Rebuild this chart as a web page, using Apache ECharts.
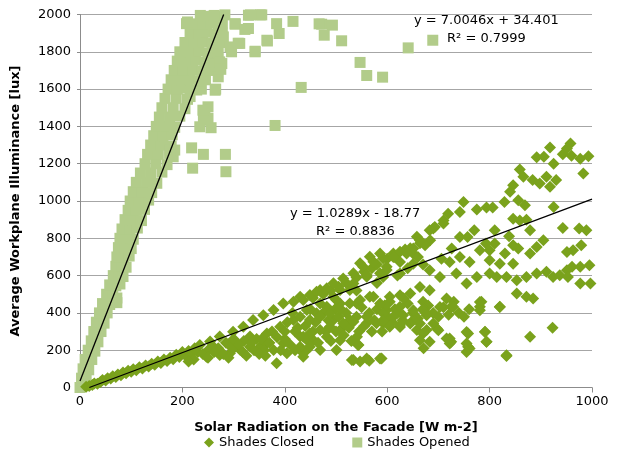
<!DOCTYPE html>
<html>
<head>
<meta charset="utf-8">
<script src="https://cdn.jsdelivr.net/npm/echarts@6/dist/echarts.min.js"></script>
<style>html,body{margin:0;padding:0;background:#fff;}#c{width:630px;height:454px;}</style>
</head>
<body>
<div id="c"></div>
<script>
var xTicks = [0, 200, 400, 600, 800, 1000];
var yTicks = [0, 200, 400, 600, 800, 1000, 1200, 1400, 1600, 1800, 2000];
var seriesNames = ['Shades Closed', 'Shades Opened'];

var openedData = [
[0,0],[5,10],[3,50],[12,45],[6,100],[17,95],[10,150],[23,150],[16,200],[29,195],
[22,250],[35,245],[27,300],[41,300],[32,350],[47,345],[38,400],[53,400],
[44,450],[58,445],[72,455],[52,500],[64,505],[72,480],[58,550],[70,545],[78,555],
[65,600],[76,600],[84,595],[70,650],[82,650],[90,645],[72,700],[85,700],[96,705],
[75,750],[88,750],[100,745],[78,800],[92,800],[104,795],[82,850],[97,850],[112,855],
[88,900],[104,900],[120,895],[94,950],[110,950],[126,955],[98,1000],[115,1000],[134,1005],
[104,1050],[122,1050],[140,1045],[110,1100],[130,1100],[150,1095],[118,1150],[138,1150],[160,1155],
[127,1200],[148,1200],[170,1195],[132,1250],[153,1250],[175,1255],[138,1300],[158,1300],[178,1295],
[144,1350],[162,1350],[180,1355],[149,1400],[167,1400],[185,1395],[155,1450],[175,1450],[195,1455],
[160,1500],[182,1500],[205,1495],[166,1550],[188,1550],[210,1545],[215,1560],
[172,1600],[190,1600],[210,1605],[228,1595],[237,1600],
[178,1650],[196,1650],[215,1655],[232,1645],[245,1650],
[184,1700],[202,1700],[220,1705],[238,1695],[255,1700],
[190,1750],[208,1750],[226,1755],[244,1745],[262,1750],
[195,1800],[214,1800],[232,1805],[250,1795],[270,1800],
[205,1850],[222,1850],[240,1855],[258,1845],[275,1850],
[215,1900],[232,1900],[248,1905],[264,1895],[278,1900],
[225,1950],[240,1950],[255,1955],[270,1945],[278,1955],
[235,1995],[250,1990],[262,1995],[275,1990],
[208,1951],[210,1960],[283,1998],[303,1951],[329,1925],[309,1846],[296,1800],[280,1880],
[277,1737],[270,1666],[264,1594],[250,1505],[244,1451],[241,1433],[185,1273],[182,1237],
[342,1800],[365,1862],[352,1998],[329,1996],[333,1998],[355,1998],[303,1948],[322,1920],
[293,1826],[312,1845],[342,1803],[366,1858],[384,1951],[389,1898],[416,1963],[432,1609],
[381,1405],[265,1600],[234,1398],[256,1393],[250,1443],[218,1285],[241,1250],[284,1250],
[220,1176],[285,1157],[176,1273],[273,1746],[275,1706],[240,1487],[472,1948],[493,1943],
[477,1889],[511,1859],[547,1743],[560,1673],[591,1664],[641,1821],[689,1862],[467,1950]
];

var closedData = [
[12,4],[18,8],[24,14],[28,22],[34,20],[40,30],[44,40],[50,38],[54,50],[60,48],[64,60],[70,56],
[74,70],[80,66],[84,80],[90,76],[94,90],[100,84],[104,98],[110,92],[116,108],[122,102],[128,118],
[134,112],[140,128],[146,122],[152,140],[158,132],[164,150],[170,142],[176,160],[182,152],
[188,176],[194,164],[200,190],[206,172],[212,196],[218,182],[224,210],[230,190],[222,150],[212,140],
[234,228],[254,246],[273,273],[299,299],[319,326],[338,362],[358,388],[378,415],[397,451],[417,460],
[430,487],[247,165],[273,174],[293,183],[313,201],[332,219],[352,219],[378,201],[384,130],[404,183],
[430,201],[332,273],[365,290],[391,326],[417,362],[430,273],[443,201],[397,237],[365,237],
[462,398],[495,362],[508,451],[482,433],[469,523],[508,523],[534,558],[560,594],[586,612],[541,451],
[573,487],[599,415],[527,362],[560,344],[592,344],[508,308],[482,272],[456,254],[469,201],[508,254],
[541,272],[501,201],[430,219],[260,220],[285,240],[300,210],[320,250],[345,260],[360,200],[400,260],
[420,300],[250,200],[290,230],
[240,180],[250,160],[262,190],[270,210],[280,180],[290,160],[300,260],[310,230],[318,190],[325,170],
[335,240],[340,200],[350,180],[355,260],[362,170],[370,240],[375,300],[385,270],[392,200],[400,300],
[405,350],[410,230],[415,400],[420,200],[425,320],[430,380],[440,330],[445,250],[450,420],[455,300],
[460,350],[465,240],[475,400],[480,300],[485,360],[490,250],[498,420],[500,300],[505,380],[515,280],
[520,400],[525,320],[530,250],[540,380],[545,300],[550,430],[555,330],[565,400],[570,300],[575,360],
[580,420],[590,300],[595,440],[600,380],[610,350],[615,420],[620,400],[630,360],[640,450],[650,400],
[660,370],[670,460],[680,440],[690,400],[700,380],[710,430],[720,390],[730,460],[740,400],[750,380],
[760,420],[455,480],[475,500],[490,520],[505,540],[520,560],[540,590],[555,620],[570,640],[580,660],
[600,690],[615,700],[635,740],[650,720],[500,470],[540,520],[580,560],[620,600],[640,640],[660,700],
[670,660],
[436,469],[449,496],[462,514],[482,532],[495,559],[514,585],[534,612],[553,648],[573,674],[592,692],
[612,719],[625,728],[645,746],[664,773],[684,790],[690,853],[710,880],[658,808],[547,666],[566,701],
[586,719],[560,603],[599,630],[527,523],[495,487],[469,451],[443,415],[449,362],[469,380],[488,398],
[508,424],[527,451],[547,469],[566,487],[586,451],[605,460],[632,478],[625,433],[592,398],[560,380],
[534,353],[514,344],[488,326],[469,308],[449,290],[436,272],[579,344],[605,326],[625,335],[651,362],
[658,308],[677,308],[671,210],[697,317],[671,424],[677,398],[716,263],[725,245],[758,290],[758,218],
[755,191],[791,299],[794,245],[833,173],[820,433],[781,433],[784,460],[725,433],[544,228],[531,147],
[547,139],[560,156],[436,165],[449,219],
[958,1308],[943,1251],[918,1287],[892,1234],[906,1237],[925,1200],[960,1242],[977,1227],[993,1240],
[983,1148],[951,1281],[859,1169],[884,1112],[911,1130],[930,1112],[918,1076],[898,1094],[866,1130],
[846,1085],[840,1049],[856,1004],[869,977],[829,995],[749,995],[742,941],[775,954],[794,965],[806,965],
[719,932],[710,896],[693,861],[683,843],[925,968],[846,905],[859,896],[872,900],[879,843],[943,855],
[975,852],[989,843],[770,843],[810,843],[742,807],[757,807],[838,811],[856,745],[846,763],[830,718],
[905,789],[892,754],[979,763],[963,736],[951,727],[810,772],[793,772],[781,736],[800,736],[726,745],
[706,691],[722,673],[742,700],[761,673],[800,682],[820,664],[846,664],[879,718],[674,763],[664,789],
[651,745],[638,718],[625,673],[612,700],[599,647],[592,593],[625,611],[651,664],[683,629],[703,593],
[735,611],[755,557],[775,593],[800,611],[814,593],[833,593],[853,575],[872,593],[892,611],[911,620],
[924,593],[951,629],[961,647],[977,647],[995,656],[977,557],[997,557],[937,602],[953,593],[853,504],
[872,486],[885,477],[781,459],[820,432],[781,414],[729,432],[716,477],[683,521],[664,539],[645,504],
[625,495],[605,486],[703,432],[670,414],[651,414],[631,387],[612,379],[592,361],[645,343],[625,325],
[664,343],[677,387],[690,343],[700,307],[670,289],[683,245],[664,254],[722,263],[722,236],[755,298],
[755,236],[761,209],[791,298],[794,245],[833,169],[879,272],[923,320],[589,156],[534,147],[565,144],
[586,156],[543,228]
];

var openedSlope = 7.0046, openedIntercept = 34.401;
var closedSlope = 1.0289, closedIntercept = -18.77;

var yMax = 2000, xMax = 1000;
var openedTrend = [[0, openedIntercept], [(yMax - openedIntercept) / openedSlope, yMax]];
var closedTrend = [[-closedIntercept / closedSlope, 0], [xMax, closedSlope * xMax + closedIntercept]];

var FONT = 'DejaVu Sans, Verdana, sans-serif';
var plain = function (v) { return String(v); };
var chart = echarts.init(document.getElementById('c'), null, {renderer: 'canvas'});
chart.setOption({
  animation: false,
  backgroundColor: '#ffffff',
  grid: {left: 80, right: 38, top: 14.5, bottom: 66.5, containLabel: false},
  xAxis: {
    type: 'value', min: 0, max: xMax, interval: 200,
    name: 'Solar Radiation on the Facade [W m-2]', nameLocation: 'middle', nameGap: 34,
    nameTextStyle: {fontFamily: FONT, fontWeight: 'bold', fontSize: 13, color: '#000'},
    axisLine: {show: true, lineStyle: {color: '#8c8c8c', width: 1}},
    axisTick: {show: true, length: 5, lineStyle: {color: '#8c8c8c'}},
    axisLabel: {fontFamily: FONT, fontSize: 13, color: '#000', margin: 8, formatter: plain},
    splitLine: {show: false}
  },
  yAxis: {
    type: 'value', min: 0, max: yMax, interval: 200,
    name: 'Average Workplane Illuminance [lux]', nameLocation: 'middle', nameGap: 58,
    nameTextStyle: {fontFamily: FONT, fontWeight: 'bold', fontSize: 13, color: '#000'},
    axisLine: {show: true, lineStyle: {color: '#8c8c8c', width: 1}},
    axisTick: {show: true, length: 3, lineStyle: {color: '#8c8c8c'}},
    axisLabel: {fontFamily: FONT, fontSize: 13, color: '#000', margin: 9, formatter: plain},
    splitLine: {show: true, lineStyle: {color: '#a6a6a6', width: 1}}
  },
  legend: {
    bottom: 0, left: 199, itemGap: 38, itemWidth: 10, itemHeight: 10,
    textStyle: {fontFamily: FONT, fontSize: 13, color: '#000'},
    data: [{name: seriesNames[0], icon: 'diamond'}, {name: seriesNames[1], icon: 'rect'}]
  },
  series: [
    {name: seriesNames[1], type: 'scatter', symbol: 'rect', symbolSize: 11,
     itemStyle: {color: '#b2cc8a', opacity: 1}, data: openedData, z: 2},
    {name: seriesNames[0], type: 'scatter', symbol: 'diamond', symbolSize: 12,
     itemStyle: {color: '#7aa21c', opacity: 1}, data: closedData, z: 3},
    {name: 'trendOpened', type: 'line', data: openedTrend, symbol: 'none', silent: true,
     lineStyle: {color: '#000', width: 1.3}, z: 5},
    {name: 'trendClosed', type: 'line', data: closedTrend, symbol: 'none', silent: true,
     lineStyle: {color: '#000', width: 1.3}, z: 5}
  ],
  graphic: [
    {type: 'text', left: 414, top: 14, style: {text: 'y = 7.0046x + 34.401', font: '13px ' + FONT, fill: '#000'}},
    {type: 'text', left: 447, top: 32, style: {text: 'R² = 0.7999', font: '13px ' + FONT, fill: '#000'}},
    {type: 'text', left: 290, top: 207, style: {text: 'y = 1.0289x - 18.77', font: '13px ' + FONT, fill: '#000'}},
    {type: 'text', left: 316, top: 225, style: {text: 'R² = 0.8836', font: '13px ' + FONT, fill: '#000'}}
  ]
});
</script>
</body>
</html>
